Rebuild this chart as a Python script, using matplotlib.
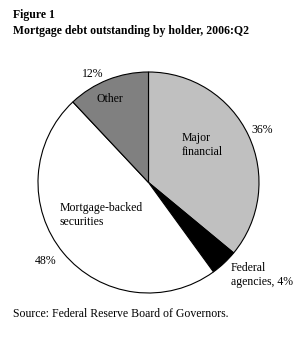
import matplotlib
matplotlib.use("Agg")
import matplotlib.pyplot as plt

holders = ["Major financial", "Federal agencies", "Mortgage-backed securities", "Other"]
shares = [36, 4, 48, 12]
colors = ["#c0c0c0", "#000000", "#ffffff", "#808080"]

W, H = 305, 339
fig = plt.figure(figsize=(W / 100, H / 100), dpi=100)
ax = fig.add_axes([0, 0, 1, 1])

def Y(y):
    return H - y

ax.pie(shares, colors=colors, startangle=90, counterclock=False,
       center=(148.5, Y(182.5)), radius=110.5,
       wedgeprops=dict(edgecolor="black", linewidth=0.8), frame=True)
ax.set_xlim(0, W)
ax.set_ylim(0, H)
ax.set_aspect("equal")
ax.axis("off")

serif = "Liberation Serif"
fs = 8.5
ax.text(13, Y(15), "Figure 1", fontsize=fs, fontweight="bold", family=serif, va="center", ha="left")
ax.text(13, Y(31), "Mortgage debt outstanding by holder, 2006:Q2", fontsize=fs, fontweight="bold",
        family=serif, va="center", ha="left")

lab = dict(fontsize=fs, family=serif, va="center")
ax.text(93, Y(74), "12%", ha="center", **lab)
ax.text(110, Y(99), "Other", ha="center", **lab)
ax.text(182, Y(145), "Major\nfinancial", ha="left", linespacing=1.2, **lab)
ax.text(262, Y(130), "36%", ha="center", **lab)
ax.text(60, Y(215), "Mortgage-backed\nsecurities", ha="left", linespacing=1.3, **lab)
ax.text(46, Y(261), "48%", ha="center", **lab)
ax.text(231, Y(275), "Federal\nagencies, 4%", ha="left", linespacing=1.2, **lab)
ax.text(13, Y(314), "Source: Federal Reserve Board of Governors.", ha="left", **lab)

fig.savefig("out.png", dpi=100)
